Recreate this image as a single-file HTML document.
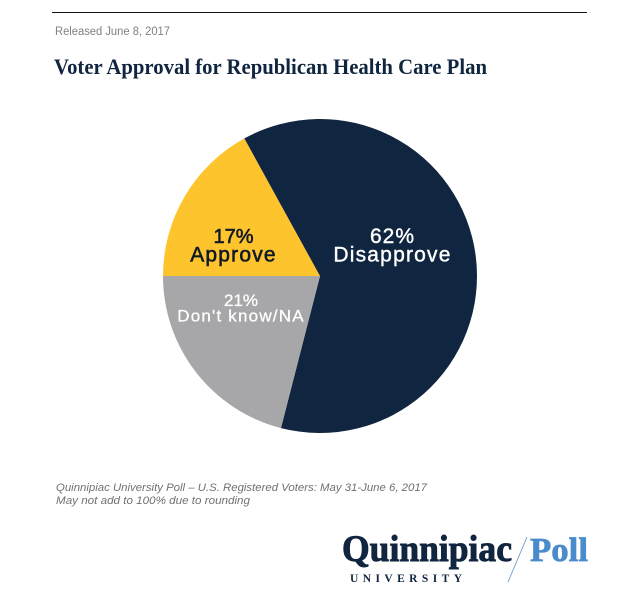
<!DOCTYPE html>
<html lang="en">
<head>
<meta charset="utf-8">
<title>Voter Approval for Republican Health Care Plan</title>
<style>
  html, body { margin: 0; padding: 0; background: #fff; }
  body { width: 640px; height: 613px; overflow: hidden; }
  svg { display: block; }
  .sans { font-family: "Liberation Sans", sans-serif; }
  .serif { font-family: "Liberation Serif", serif; }
</style>
</head>
<body>
<svg id="chart" xmlns="http://www.w3.org/2000/svg" width="640" height="613" viewBox="0 0 640 613">
  <rect x="0" y="0" width="640" height="613" fill="#ffffff"/>
  <rect x="52" y="12" width="535" height="1" fill="#111111"/>
  <text class="sans" x="55" y="35" font-size="11.5" fill="#808080" textLength="115" lengthAdjust="spacingAndGlyphs">Released June 8, 2017</text>
  <text class="serif" x="54" y="74" font-size="22.5" font-weight="bold" fill="#10253f" textLength="433" lengthAdjust="spacingAndGlyphs">Voter Approval for Republican Health Care Plan</text>
  <g id="pie"></g>
  <g id="pie-labels"></g>
  <g class="sans" font-size="11" font-style="italic" fill="#707070">
    <text x="56" y="491" textLength="371" lengthAdjust="spacingAndGlyphs">Quinnipiac University Poll – U.S. Registered Voters: May 31-June 6, 2017</text>
    <text x="56" y="504" textLength="194" lengthAdjust="spacingAndGlyphs">May not add to 100% due to rounding</text>
  </g>
  <g class="serif" font-weight="bold">
    <text x="342" y="561" font-size="37" fill="#10253f" stroke="#10253f" stroke-width="0.9" textLength="170" lengthAdjust="spacingAndGlyphs">Quinnipiac</text>
    <line x1="527" y1="537" x2="508" y2="582" stroke="#5b93c9" stroke-width="0.8"/>
    <text x="530" y="561" font-size="34" fill="#4a8ccb" stroke="#4a8ccb" stroke-width="0.7" textLength="58" lengthAdjust="spacingAndGlyphs">Poll</text>
    <text x="350" y="582" font-size="11.5" fill="#10253f" textLength="112" lengthAdjust="spacing">UNIVERSITY</text>
  </g>
</svg>
<script>
const categories = ['Approve', 'Disapprove', "Don't know/NA"];
const values = [17, 62, 21];
const valueLabels = ['17%', '62%', '21%'];

const NS = 'http://www.w3.org/2000/svg';
const cx = 320, cy = 276, radius = 157;
const startDeg = 270;
const styles = {
  'Approve': { fill: '#fdc42e', text: '#111a26', pct: 20, pctSpacing: 0, name: 21, nameSpacing: 1.2, lx: 233.5, ly: 243, gap: 18.5, nameStroke: 0.6 },
  'Disapprove': { fill: '#10253f', text: '#ffffff', pct: 21, pctSpacing: 1, name: 21, nameSpacing: 1.2, lx: 392.5, ly: 243, gap: 18.5, nameStroke: 0.4 },
  "Don't know/NA": { fill: '#a7a7a9', text: '#ffffff', pct: 17, pctSpacing: 0, name: 17, nameSpacing: 1.2, lx: 241, ly: 306, gap: 15.5, nameStroke: 0.3 }
};
const total = values.reduce((a, b) => a + b, 0);

function angleFor(cumulative) {
  return (startDeg + cumulative / total * 360) * Math.PI / 180;
}
function pointAt(angle) {
  return [cx + radius * Math.sin(angle), cy - radius * Math.cos(angle)];
}

const pie = document.getElementById('pie');
const labels = document.getElementById('pie-labels');
let cumulative = 0;
categories.forEach((cat, i) => {
  const a0 = angleFor(cumulative);
  const a1 = angleFor(cumulative + values[i]);
  cumulative += values[i];
  const p0 = pointAt(a0), p1 = pointAt(a1);
  const large = (a1 - a0) > Math.PI ? 1 : 0;
  const slug = cat.toLowerCase().replace(/[^a-z]+/g, '-');
  const st = styles[cat];

  const path = document.createElementNS(NS, 'path');
  path.setAttribute('d', `M${cx},${cy}L${p0[0]},${p0[1]}A${radius},${radius} 0 ${large} 1 ${p1[0]},${p1[1]}Z`);
  path.setAttribute('fill', st.fill);
  
  
  pie.appendChild(path);

  const pct = document.createElementNS(NS, 'text');
  pct.textContent = valueLabels[i];
  pct.setAttribute('x', st.lx);
  pct.setAttribute('y', st.ly);
  pct.setAttribute('text-anchor', 'middle');
  pct.setAttribute('font-size', st.pct);
  pct.setAttribute('letter-spacing', st.pctSpacing);
  pct.setAttribute('font-family', '"Liberation Sans", sans-serif');
  pct.setAttribute('fill', st.text);
  pct.setAttribute('stroke', st.text);
  pct.setAttribute('stroke-width', st.nameStroke);
  
  
  labels.appendChild(pct);

  const name = document.createElementNS(NS, 'text');
  name.textContent = cat;
  name.setAttribute('x', st.lx);
  name.setAttribute('y', st.ly + st.gap);
  name.setAttribute('text-anchor', 'middle');
  name.setAttribute('font-size', st.name);
  name.setAttribute('letter-spacing', st.nameSpacing);
  name.setAttribute('font-family', '"Liberation Sans", sans-serif');
  name.setAttribute('fill', st.text);
  name.setAttribute('stroke', st.text);
  name.setAttribute('stroke-width', st.nameStroke);
  
  
  labels.appendChild(name);
});
</script>
</body>
</html>
